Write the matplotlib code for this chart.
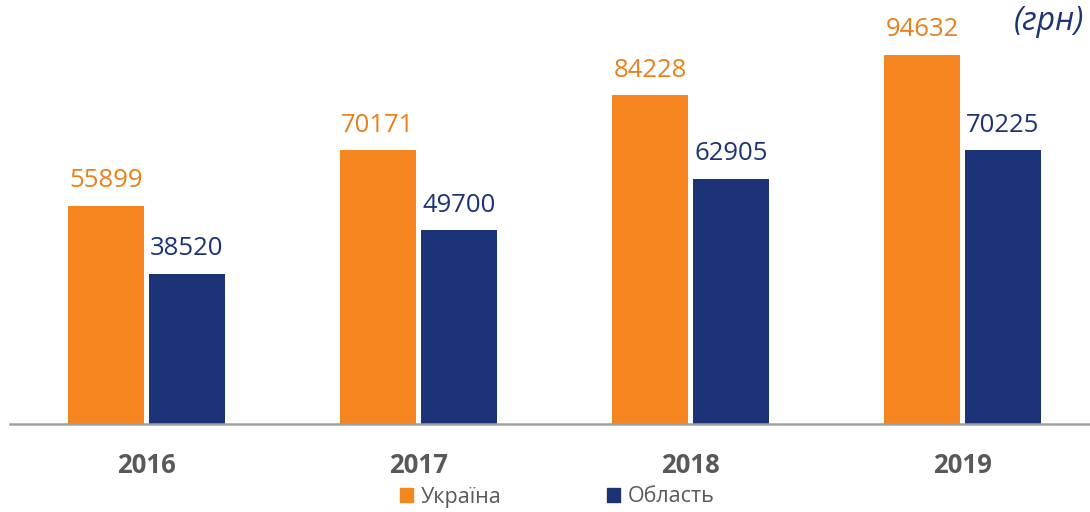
import numpy as np
import matplotlib
matplotlib.use("Agg")
import matplotlib.pyplot as plt
from matplotlib.patches import Patch

# Data
years = ["2016", "2017", "2018", "2019"]
ukraine = [55899, 70171, 84228, 94632]
oblast = [38520, 49700, 62905, 70225]

orange = "#F5861F"
blue = "#1D3378"
gray = "#595959"

plt.rcParams["font.family"] = ["Open Sans", "DejaVu Sans"]

fig = plt.figure(figsize=(10.9, 5.12), dpi=100)
ax = fig.add_axes([10 / 1090, 88 / 512, 1080 / 1090, 424 / 512])

x = np.arange(len(years))
w = 0.279
off = 0.149

b1 = ax.bar(x - off, ukraine, w, color=orange)
b2 = ax.bar(x + off, oblast, w, color=blue)

for rect, v in zip(b1, ukraine):
    ax.annotate(str(v), (rect.get_x() + rect.get_width() / 2, v),
                xytext=(0, 9), textcoords="offset points",
                ha="center", va="bottom", fontsize=18.5, color="#E8801C")
for rect, v in zip(b2, oblast):
    ax.annotate(str(v), (rect.get_x() + rect.get_width() / 2, v),
                xytext=(0, 9), textcoords="offset points",
                ha="center", va="bottom", fontsize=18.5, color=blue)

ax.set_xlim(-0.502, 3.469)
ax.set_ylim(0, 108700)

ax.set_xticks(x)
ax.set_xticklabels(years, fontsize=18.5, fontweight="bold", color=gray)
ax.tick_params(axis="x", length=0, pad=20)
ax.set_yticks([])

for s in ["top", "right", "left"]:
    ax.spines[s].set_visible(False)
ax.spines["bottom"].set_color("#A0A0A0")
ax.spines["bottom"].set_linewidth(1.8)

fig.text(1084 / 1090, 1 - 21 / 512, "(грн)", ha="right", va="center",
         fontsize=23, style="italic", color=blue)

handles = [Patch(color=orange, label="Україна"), Patch(color=blue, label="Область")]
fig.legend(handles=handles, loc="center", bbox_to_anchor=(557 / 1090, 1 - 497 / 512),
           ncol=2, frameon=False, fontsize=15.5, labelcolor=gray,
           handlelength=0.62, handleheight=0.62, handletextpad=0.35, columnspacing=4.9)

fig.savefig("out.png", dpi=100)
plt.close()
